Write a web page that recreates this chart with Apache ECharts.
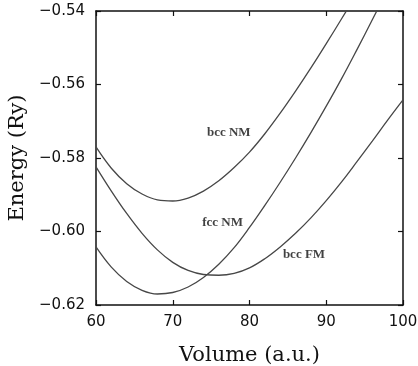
<!DOCTYPE html>
<html>
<head>
<meta charset="utf-8">
<script src="https://cdn.jsdelivr.net/npm/echarts@6/dist/echarts.min.js"></script>
<style>
html,body{margin:0;padding:0;background:#fff;}
#chart{width:418px;height:366px;}
</style>
</head>
<body>
<div id="chart"></div>
<script>
// Volume grid (a.u.)
const volumes = [60,62,64,66,68,70,72,74,76,78,80,82,84,86,88,90,92,94,96,98,100];
// Energies (Ry); null = above the plotted range
const bccNM = [-0.5770,-0.5828,-0.5870,-0.5898,-0.5914,-0.5917,-0.5909,-0.5890,-0.5862,-0.5826,-0.5784,-0.5734,-0.5678,-0.5618,-0.5555,-0.5489,-0.5421,-0.5353,null,null,null];
const fccNM = [-0.6042,-0.6097,-0.6136,-0.6160,-0.6170,-0.6166,-0.6151,-0.6125,-0.6089,-0.6044,-0.5989,-0.5929,-0.5866,-0.5800,-0.5731,-0.5659,-0.5584,-0.5505,-0.5424,-0.5341,null];
const bccFM = [-0.5824,-0.5890,-0.5951,-0.6005,-0.6050,-0.6084,-0.6106,-0.6117,-0.6119,-0.6114,-0.6099,-0.6074,-0.6042,-0.6005,-0.5963,-0.5916,-0.5865,-0.5810,-0.5754,-0.5697,-0.5642];
// Curve labels: [volume, energy, text]
const curveLabels = [[77.3,-0.5732,'bcc NM'],[76.5,-0.5977,'fcc NM'],[87.1,-0.6062,'bcc FM']];
const xTicks = {min:60, max:100, step:10};
const yTicks = {min:-0.62, max:-0.54, step:0.02};

const pair = arr => volumes.map((v,i)=>[v, arr[i]]).filter(p=>p[1]!==null);
const lineStyle = {color:'#474747', width:1.3};
const mkLine = (name, arr) => ({name, type:'line', data:pair(arr), smooth:0.4, showSymbol:false, symbol:'none', lineStyle, clip:true, silent:true});
const fmtY = v => (v<0?'\u2212':'') + Math.abs(v).toFixed(2);
const axisLine = {show:true, lineStyle:{color:'#111', width:1.5}};
const tick = {show:true, inside:true, length:5, lineStyle:{color:'#111', width:1.2}};

const chart = echarts.init(document.getElementById('chart'), null, {renderer:'canvas'});
chart.setOption({
  animation:false,
  backgroundColor:'#fff',
  grid:{left:96, right:15, top:11, bottom:61, containLabel:false, outerBoundsMode:'none'},
  xAxis:[
    {type:'value', min:xTicks.min, max:xTicks.max, interval:xTicks.step, position:'bottom',
     name:'Volume (a.u.)', nameLocation:'middle', nameGap:40,
     nameTextStyle:{fontFamily:'DejaVu Serif', fontSize:21, color:'#111'},
     axisLine, axisTick:tick, splitLine:{show:false},
     axisLabel:{fontFamily:'DejaVu Sans', fontSize:15, color:'#111', margin:10}},
    {type:'value', min:xTicks.min, max:xTicks.max, interval:xTicks.step, position:'top',
     axisLine, axisTick:tick, splitLine:{show:false}, axisLabel:{show:false}}
  ],
  yAxis:[
    {type:'value', min:yTicks.min, max:yTicks.max, interval:yTicks.step, position:'left',
     name:'Energy (Ry)', nameLocation:'middle', nameGap:68,
     nameTextStyle:{fontFamily:'DejaVu Serif', fontSize:21, color:'#111'},
     axisLine, axisTick:tick, splitLine:{show:false},
     axisLabel:{fontFamily:'DejaVu Sans', fontSize:15, color:'#111', margin:11, formatter:fmtY}},
    {type:'value', min:yTicks.min, max:yTicks.max, interval:yTicks.step, position:'right',
     axisLine, axisTick:tick, splitLine:{show:false}, axisLabel:{show:false}}
  ],
  series:[
    mkLine('bcc NM', bccNM),
    mkLine('fcc NM', fccNM),
    mkLine('bcc FM', bccFM),
    {type:'scatter', symbolSize:0, silent:true,
     data:curveLabels.map(d=>({value:[d[0],d[1]], label:{show:true, formatter:d[2]}})),
     label:{position:'inside', fontFamily:'Liberation Serif', fontWeight:'bold', fontSize:13, color:'#111'}}
  ]
});
</script>
</body>
</html>
